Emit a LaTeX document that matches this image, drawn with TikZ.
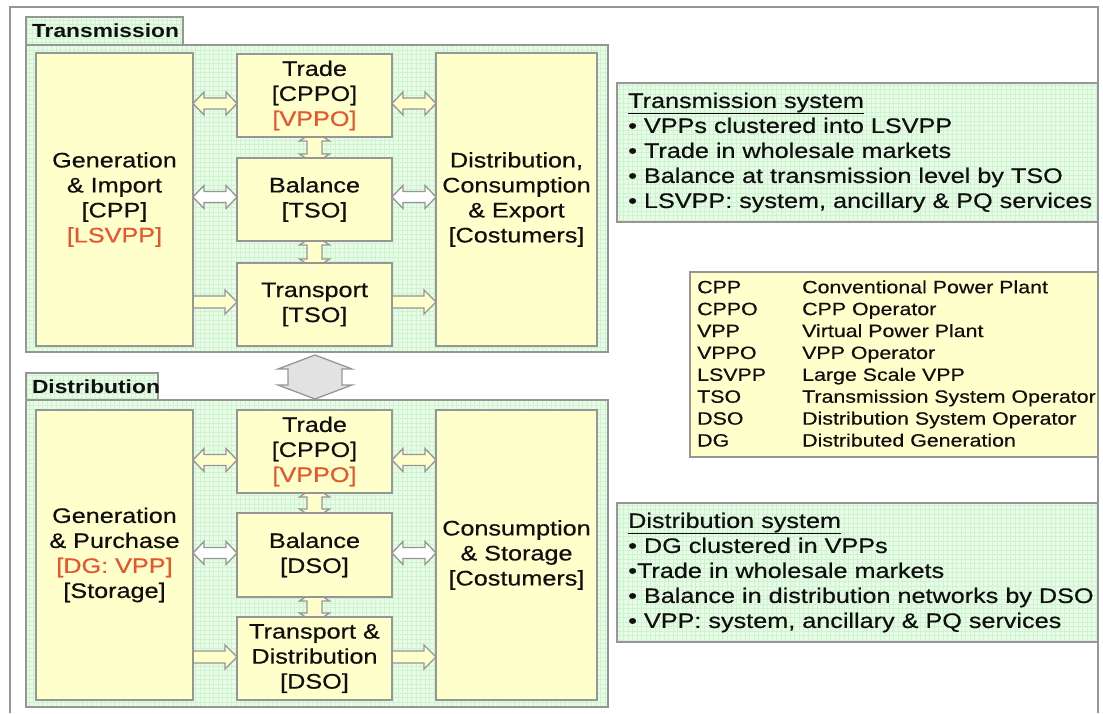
\documentclass[tikz,border=0pt]{standalone}
\usepackage{fontspec}
\setmainfont{Liberation Sans}[FakeStretch=1.2]
\newfontfamily\heavyfam{Liberation Sans}[FakeStretch=1.2, FakeBold=0.5]
\usetikzlibrary{calc}
\pgfdeclarelayer{bglayer}
\pgfdeclarelayer{panellayer}
\pgfdeclarelayer{connlayer}
\pgfsetlayers{bglayer,panellayer,connlayer,main}
\definecolor{bord}{RGB}{150,150,150}
\definecolor{byel}{RGB}{255,255,204}
\definecolor{pgreen}{RGB}{228,253,228}
\definecolor{gridc}{RGB}{210,240,210}
\definecolor{txt}{RGB}{15,15,15}
\definecolor{redt}{RGB}{232,85,45}
\definecolor{lgray}{RGB}{226,226,226}
\newcommand\bodyfont{\heavyfam\fontsize{21}{25}\selectfont}
\newcommand\tabfont{\fontsize{19}{22}\selectfont\bfseries}
\newcommand\legfont{\heavyfam\fontsize{17.8}{21.9}\selectfont}
\newcommand\rd[1]{\textcolor{redt}{#1}}
% horizontal double arrow: from, to, fill, head length, head half width, shaft half width
\newcommand\hdarrow[6]{\draw[connline, fill=#3] let \p1=(#1), \p2=(#2) in
  (\x1,\y1) -- ({\x1+#4pt},{\y1+#5pt}) -- ({\x1+#4pt},{\y1+#6pt}) -- ({\x2-#4pt},{\y1+#6pt}) -- ({\x2-#4pt},{\y1+#5pt}) -- (\x2,\y1) -- ({\x2-#4pt},{\y1-#5pt}) -- ({\x2-#4pt},{\y1-#6pt}) -- ({\x1+#4pt},{\y1-#6pt}) -- ({\x1+#4pt},{\y1-#5pt}) -- cycle;}
% horizontal single arrow
\newcommand\hsarrow[6]{\draw[connline, fill=#3] let \p1=(#1), \p2=(#2) in
  (\x1,{\y1+#6pt}) -- ({\x2-#4pt},{\y1+#6pt}) -- ({\x2-#4pt},{\y1+#5pt}) -- (\x2,\y1) -- ({\x2-#4pt},{\y1-#5pt}) -- ({\x2-#4pt},{\y1-#6pt}) -- (\x1,{\y1-#6pt}) -- cycle;}
% vertical double arrow: top, bottom
\newcommand\vdarrow[6]{\draw[connline, fill=#3] let \p1=(#1), \p2=(#2) in
  (\x1,\y1) -- ({\x1+#5pt},{\y1-#4pt}) -- ({\x1+#6pt},{\y1-#4pt}) -- ({\x1+#6pt},{\y2+#4pt}) -- ({\x1+#5pt},{\y2+#4pt}) -- (\x1,\y2) -- ({\x1-#5pt},{\y2+#4pt}) -- ({\x1-#6pt},{\y2+#4pt}) -- ({\x1-#6pt},{\y1-#4pt}) -- ({\x1-#5pt},{\y1-#4pt}) -- cycle;}
\begin{document}
\begin{tikzpicture}[x=1pt,y=-1pt,
  gridbg/.style={path picture={\draw[gridc, line width=0.5pt, step=4.5pt] (path picture bounding box.south west) grid (path picture bounding box.north east);}},
  panel/.style={draw=bord, line width=1.6pt, fill=pgreen, gridbg, inner sep=0pt, outer sep=0pt},
  tabbox/.style={panel, align=left, text=txt, font=\tabfont, inner xsep=6pt},
  box/.style={draw=bord, line width=1.8pt, fill=byel, inner sep=0pt, outer sep=0pt, align=center, text=txt, font=\bodyfont},
  infobox/.style={draw=bord, line width=1.8pt, fill=pgreen, gridbg, inner sep=0pt, outer sep=0pt},
  legbox/.style={draw=bord, line width=1.6pt, fill=byel, inner sep=0pt, outer sep=0pt},
  infotext/.style={anchor=west, align=left, text=txt, font=\bodyfont, inner sep=0pt},
  connline/.style={draw=bord, line width=1.3pt, line join=miter},
  outerframe/.style={draw=bord, line width=2.2pt}]
\useasboundingbox (0,0) rectangle (1103,713);
\begin{pgfonlayer}{bglayer}
\fill[white] (0,0) rectangle (1103,713);
\end{pgfonlayer}
\draw[outerframe] (10,713) -- (10,7) -- (1098,7) -- (1098,713);

\begin{pgfonlayer}{panellayer}
\node[tabbox, text width=145pt, minimum height=28pt] (ttab) at (104.5,31) {Transmission};
\node[panel, minimum width=582pt, minimum height=307pt] (tp) at (317,198.5) {};
\node[tabbox, text width=120pt, minimum height=27pt] (dtab) at (92,386.5) {Distribution};
\node[panel, minimum width=582pt, minimum height=307pt] (dp) at (317,553.5) {};
\end{pgfonlayer}

% Transmission boxes
\node[box, minimum width=157pt, minimum height=293pt] (tg) at (114.5,199.5) {Generation\\ \& Import\\ {[CPP]}\\ \rd{[LSVPP]}};
\node[box, minimum width=155pt, minimum height=83pt] (tt) at (314.5,95.5) {Trade\\ {[CPPO]}\\ \rd{[VPPO]}};
\node[box, minimum width=155pt, minimum height=83pt] (tb) at (314.5,199.5) {Balance\\ {[TSO]}};
\node[box, minimum width=155pt, minimum height=83pt] (tr) at (314.5,304.5) {Transport\\ {[TSO]}};
\node[box, minimum width=161pt, minimum height=293pt] (tc) at (516.5,199.5) {Distribution,\\ Consumption\\ \& Export\\ {[Costumers]}};

% Distribution boxes
\node[box, minimum width=157pt, minimum height=290pt] (dg) at (114.5,555) {Generation\\ \& Purchase\\ \rd{[DG: VPP]}\\ {[Storage]}};
\node[box, minimum width=155pt, minimum height=83pt] (dt) at (314.5,451.5) {Trade\\ {[CPPO]}\\ \rd{[VPPO]}};
\node[box, minimum width=155pt, minimum height=84pt] (db) at (314.5,555) {Balance\\ {[DSO]}};
\node[box, minimum width=155pt, minimum height=83pt] (dr) at (314.5,658.5) {Transport \&\\ Distribution\\ {[DSO]}};
\node[box, minimum width=161pt, minimum height=290pt] (dc) at (516.5,555) {Consumption\\ \& Storage\\ {[Costumers]}};

% connectors
\coordinate (t1) at ([yshift=-8pt]tt.west);
\coordinate (t2) at ([yshift=2.5pt]tb.west);
\coordinate (t3) at ([yshift=2.5pt]tr.west);
\coordinate (d1) at ([yshift=-8.5pt]dt.west);
\coordinate (d2) at ([yshift=2pt]db.west);
\coordinate (d3) at ([yshift=1.5pt]dr.west);
\coordinate (bigA) at ([xshift=-2pt,yshift=-3pt]tp.south);
\coordinate (bigB) at ([xshift=-2pt,yshift=1pt]dp.north);
\begin{pgfonlayer}{connlayer}
\hdarrow{tg.east|-t1}{t1}{byel}{11}{11.5}{5.5}
\hdarrow{tt.east|-t1}{tc.west|-t1}{byel}{11}{11.5}{5.5}
\hdarrow{tg.east|-t2}{t2}{white}{11}{11.5}{5.5}
\hdarrow{tb.east|-t2}{tc.west|-t2}{white}{11}{11.5}{5.5}
\hsarrow{tg.east|-t3}{t3}{byel}{12}{12}{6}
\hsarrow{tr.east|-t3}{tc.west|-t3}{byel}{12}{12}{6}
\vdarrow{[yshift=6pt]tt.south}{[yshift=-6pt]tb.north}{byel}{10}{15}{7.5}
\vdarrow{[yshift=6pt]tb.south}{[yshift=-6pt]tr.north}{byel}{10}{15}{7.5}
\hdarrow{dg.east|-d1}{d1}{byel}{11}{11.5}{5.5}
\hdarrow{dt.east|-d1}{dc.west|-d1}{byel}{11}{11.5}{5.5}
\hdarrow{dg.east|-d2}{d2}{white}{11}{11.5}{5.5}
\hdarrow{db.east|-d2}{dc.west|-d2}{white}{11}{11.5}{5.5}
\hsarrow{dg.east|-d3}{d3}{byel}{12}{12}{6}
\hsarrow{dr.east|-d3}{dc.west|-d3}{byel}{12}{12}{6}
\vdarrow{[yshift=6pt]dt.south}{[yshift=-6pt]db.north}{byel}{10}{15}{7.5}
\vdarrow{[yshift=6pt]db.south}{[yshift=-6pt]dr.north}{byel}{10}{15}{7.5}
\vdarrow{bigA}{bigB}{lgray}{14}{37}{27}
\end{pgfonlayer}

% right side
\node[infobox, minimum width=481pt, minimum height=139pt] (is1) at (857.5,152.5) {};
\node[infotext] (is1t) at ([xshift=11pt]is1.west) {\underline{Transmission system}\\ • VPPs clustered into LSVPP\\ • Trade in wholesale markets\\ • Balance at transmission level by TSO\\ • LSVPP: system, ancillary \& PQ services};

\node[legbox, minimum width=408pt, minimum height=185pt] (lg) at (894,364.5) {};
\node[infotext, font=\legfont] (lgt) at ([xshift=7pt,yshift=-1pt]lg.west) {\begin{tabular}{@{}p{105pt}@{}l@{}}
CPP & Conventional Power Plant\\
CPPO & CPP Operator\\
VPP & Virtual Power Plant\\
VPPO & VPP Operator\\
LSVPP & Large Scale VPP\\
TSO & Transmission System Operator\\
DSO & Distribution System Operator\\
DG & Distributed Generation
\end{tabular}};

\node[infobox, minimum width=481pt, minimum height=139pt] (is2) at (857.5,572.5) {};
\node[infotext] (is2t) at ([xshift=11pt]is2.west) {\underline{Distribution system}\\ • DG clustered in VPPs\\ •Trade in wholesale markets\\ • Balance in distribution networks by DSO\\ • VPP: system, ancillary \& PQ services};
\end{tikzpicture}
\end{document}
